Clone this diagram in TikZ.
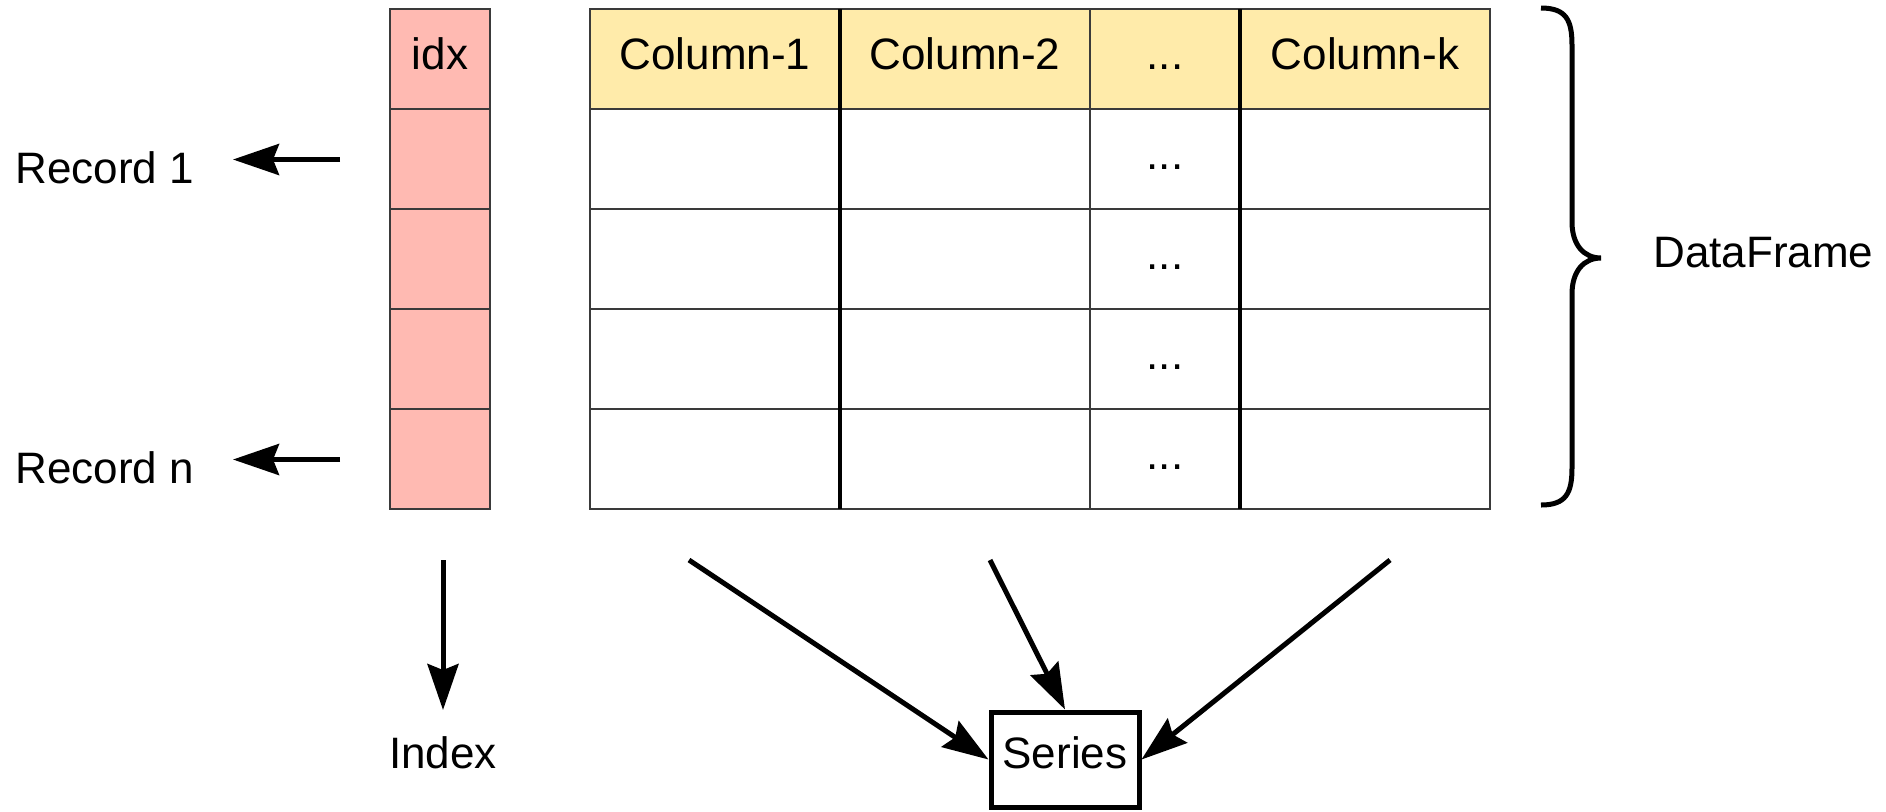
\documentclass[tikz,border=0pt]{standalone}
\usepackage{fontspec}
\setmainfont{Liberation Sans}
\usetikzlibrary{arrows.meta}
\definecolor{hdrfill}{HTML}{FFEBAA}
\definecolor{idxfill}{HTML}{FFBAB2}
\definecolor{gridline}{HTML}{3A3A3A}
\begin{document}
\begin{tikzpicture}[x=0.5pt,y=-0.5pt,
  lbl/.style={anchor=base, font=\fontsize{22}{26}\selectfont, inner sep=0pt},
  lblw/.style={lbl, anchor=base west},
  thinline/.style={draw=gridline, line width=0.75pt},
  thickline/.style={draw=black, line width=1.6pt},
  conn/.style={line width=2.5pt, -{Stealth[length=23pt,width=15.5pt,inset=3pt]}},
  boxnode/.style={draw=black, line width=2.5pt, minimum width=74pt, minimum height=47.5pt,
     inner sep=0pt, font=\fontsize{22}{26}\selectfont, text height=16pt, text depth=7.5pt}
]
\useasboundingbox (0,0) rectangle (1886,811);

% index column
\fill[idxfill] (390,9) rectangle (490,509);
\foreach \yy in {109,209,309,409} \draw[thinline] (390,\yy) -- (490,\yy);
\draw[thinline] (390,9) rectangle (490,509);
\node[lbl] (idxlbl) at (440,69) {idx};

% table
\fill[hdrfill] (590,9) rectangle (1490,109);
\foreach \yy in {109,209,309,409} \draw[thinline] (590,\yy) -- (1490,\yy);
\draw[thinline] (590,9) rectangle (1490,509);
\draw[thinline] (1090,9) -- (1090,509);
\draw[thickline] (840,9) -- (840,509);
\draw[thickline] (1240,9) -- (1240,509);

\node[lbl] (c1) at (715,69) {Column-1};
\node[lbl] (c2) at (965,69) {Column-2};
\node[lbl] (cdots) at (1165,69) {...};
\node[lbl] (ck) at (1365,69) {Column-k};
\node[lbl] (d1) at (1165,169) {...};
\node[lbl] (d2) at (1165,269) {...};
\node[lbl] (d3) at (1165,369) {...};
\node[lbl] (d4) at (1165,469) {...};

% brace
\draw[line width=2.5pt] (1541,8) .. controls (1566,8) and (1572,20) .. (1572,45)
  -- (1572,222) .. controls (1572,245) and (1584,258) .. (1601,258)
  .. controls (1584,258) and (1572,271) .. (1572,294)
  -- (1572,468) .. controls (1572,493) and (1566,505) .. (1541,505);
\node[lblw] (df) at (1653,267) {DataFrame};

% records
\node[lblw] (rec1) at (15,183) {Record 1};
\node[lblw] (recn) at (15,483) {Record n};
\coordinate (r1s) at (340,159.5);
\coordinate (r1e) at (233,159.5);
\coordinate (rns) at (340,459.5);
\coordinate (rne) at (233,459.5);
\draw[conn] (r1s) -- (r1e);
\draw[conn] (rns) -- (rne);

% index
\node[lbl] (index) at (443,768) {Index};
\coordinate (ixs) at (443,560);
\coordinate (ixe) at (443,710);
\draw[conn] (ixs) -- (ixe);

% series
\node[boxnode] (series) at (1065,759.5) {Series};
\coordinate (sa) at (689,560);
\coordinate (sb) at (990,560);
\coordinate (sc) at (1390,560);
\draw[conn] (sa) -- (series.west);
\draw[conn] (sb) -- (series.north);
\draw[conn] (sc) -- (series.east);
\end{tikzpicture}
\end{document}
